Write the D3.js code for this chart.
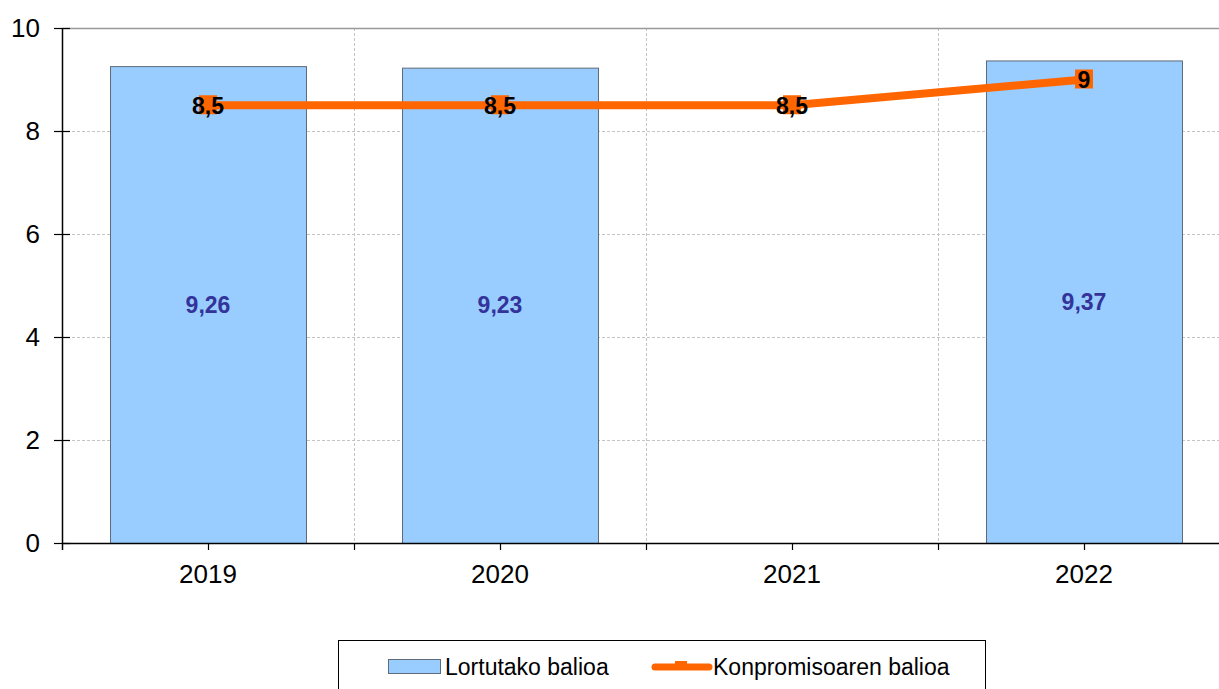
<!DOCTYPE html>
<html>
<head>
<meta charset="utf-8">
<script src="https://cdn.jsdelivr.net/npm/d3@7"></script>
<style>
  body { margin: 0; background: #fff; }
  svg { display: block; font-family: "Liberation Sans", Arial, sans-serif; }
</style>
</head>
<body>
<svg id="chart" width="1219" height="689"></svg>
<script>
(function () {
    'use strict';

    var years = ['2019', '2020', '2021', '2022'];
    var achieved = [9.26, 9.23, null, 9.37];
    var commitment = [8.5, 8.5, 8.5, 9];
    var yTicks = [0, 2, 4, 6, 8, 10];
    var seriesNames = ['Lortutako balioa', 'Konpromisoaren balioa'];

    var fmt = function (v) { return String(v).replace('.', ','); };

    var svg = d3.select('#chart'),
        margin = {top: 28, left: 62},
        width = 1168,
        height = 515,
        g = svg.append('g').attr('transform', 'translate(' + margin.left + ',' + margin.top + ')');

    var x = d3.scaleBand()
        .domain(years)
        .range([0, width])
        .paddingInner(0.3288)
        .paddingOuter(0.1644);

    var y = d3.scaleLinear()
        .domain([0, 10])
        .range([height, 0]);

    var step = x.step();

    // grid
    g.append('g')
        .selectAll('line')
        .data(yTicks.filter(function (d) { return d > 0 && d < 10; }))
        .enter().append('line')
        .attr('x1', 0).attr('x2', width)
        .attr('y1', function (d) { return y(d) + 0.5; })
        .attr('y2', function (d) { return y(d) + 0.5; })
        .attr('stroke', '#c4c4c4')
        .attr('stroke-dasharray', '3,2');

    g.append('g')
        .selectAll('line')
        .data(years.slice(1))
        .enter().append('line')
        .attr('x1', function (d, i) { return (i + 1) * step + 0.5; })
        .attr('x2', function (d, i) { return (i + 1) * step + 0.5; })
        .attr('y1', 0).attr('y2', height)
        .attr('stroke', '#c4c4c4')
        .attr('stroke-dasharray', '3,2');

    // top border
    g.append('line')
        .attr('x1', 0).attr('x2', width)
        .attr('y1', 0.5).attr('y2', 0.5)
        .attr('stroke', '#999')
        .attr('stroke-width', 1.5);

    // bars
    var barData = years.map(function (d, i) { return {year: d, value: achieved[i]}; })
        .filter(function (d) { return d.value !== null; });

    g.append('g')
        .selectAll('rect')
        .data(barData)
        .enter().append('rect')
        .attr('x', function (d) { return x(d.year) + 0.5; })
        .attr('y', function (d) { return y(d.value) + 0.5; })
        .attr('width', x.bandwidth())
        .attr('height', function (d) { return y(0) - y(d.value); })
        .attr('fill', '#99ccff')
        .attr('stroke', '#5f6b78')
        .attr('stroke-width', 1);

    g.append('g')
        .selectAll('text')
        .data(barData)
        .enter().append('text')
        .attr('x', function (d) { return x(d.year) + x.bandwidth() / 2; })
        .attr('y', function (d) { return (y(d.value) + y(0)) / 2; })
        .attr('dy', '0.35em')
        .attr('text-anchor', 'middle')
        .attr('font-size', 23)
        .attr('font-weight', 'bold')
        .attr('fill', '#333399')
        .text(function (d) { return fmt(d.value); });

    // line
    var lineData = years.map(function (d, i) { return {year: d, value: commitment[i]}; });
    var cx = function (d) { return x(d.year) + x.bandwidth() / 2; };

    var line = d3.line()
        .x(cx)
        .y(function (d) { return y(d.value); });

    g.append('path')
        .datum(lineData)
        .attr('fill', 'none')
        .attr('stroke', '#ff6600')
        .attr('stroke-width', 8)
        .attr('stroke-linejoin', 'round')
        .attr('d', line);

    g.append('g')
        .selectAll('rect')
        .data(lineData)
        .enter().append('rect')
        .attr('x', function (d) { return cx(d) - 9; })
        .attr('y', function (d) { return y(d.value) - 10; })
        .attr('width', 18).attr('height', 19)
        .attr('fill', '#ff6600');

    g.append('g')
        .selectAll('text')
        .data(lineData)
        .enter().append('text')
        .attr('x', cx)
        .attr('y', function (d) { return y(d.value); })
        .attr('dy', '0.36em')
        .attr('text-anchor', 'middle')
        .attr('font-size', 23)
        .attr('font-weight', 'bold')
        .attr('fill', '#000')
        .text(function (d) { return fmt(d.value); });

    // axes
    g.append('line')
        .attr('x1', 0.5).attr('x2', 0.5)
        .attr('y1', 0).attr('y2', height + 7)
        .attr('stroke', '#000').attr('stroke-width', 1.5);

    g.append('line')
        .attr('x1', 0).attr('x2', width)
        .attr('y1', height + 0.5).attr('y2', height + 0.5)
        .attr('stroke', '#000').attr('stroke-width', 1.5);

    var yAxis = g.append('g');
    yAxis.selectAll('line')
        .data(yTicks)
        .enter().append('line')
        .attr('x1', -8).attr('x2', 8)
        .attr('y1', function (d) { return y(d) + 0.5; })
        .attr('y2', function (d) { return y(d) + 0.5; })
        .attr('stroke', '#000').attr('stroke-width', 1.2);
    yAxis.selectAll('text')
        .data(yTicks)
        .enter().append('text')
        .attr('x', -22)
        .attr('y', function (d) { return y(d); })
        .attr('dy', '0.35em')
        .attr('text-anchor', 'end')
        .attr('font-size', 26)
        .attr('fill', '#000')
        .text(function (d) { return d; });

    var xAxis = g.append('g');
    xAxis.selectAll('line.c')
        .data(years)
        .enter().append('line')
        .attr('x1', function (d) { return cx({year: d}) + 0.5; })
        .attr('x2', function (d) { return cx({year: d}) + 0.5; })
        .attr('y1', height).attr('y2', height + 7)
        .attr('stroke', '#000').attr('stroke-width', 1.2);
    xAxis.selectAll('line.b')
        .data(years.slice(1))
        .enter().append('line')
        .attr('x1', function (d, i) { return (i + 1) * step + 0.5; })
        .attr('x2', function (d, i) { return (i + 1) * step + 0.5; })
        .attr('y1', height).attr('y2', height + 7)
        .attr('stroke', '#000').attr('stroke-width', 1.2);
    xAxis.selectAll('text')
        .data(years)
        .enter().append('text')
        .attr('x', function (d) { return cx({year: d}); })
        .attr('y', height + 31)
        .attr('dy', '0.35em')
        .attr('text-anchor', 'middle')
        .attr('font-size', 26)
        .attr('fill', '#000')
        .text(function (d) { return d; });

    // legend
    var legend = svg.append('g').attr('transform', 'translate(338,640)');
    legend.append('rect')
        .attr('x', 0.5).attr('y', 0.5)
        .attr('width', 647).attr('height', 60)
        .attr('fill', '#fff')
        .attr('stroke', '#000').attr('stroke-width', 1);
    legend.append('rect')
        .attr('x', 50.5).attr('y', 19.5)
        .attr('width', 52).attr('height', 14)
        .attr('fill', '#99ccff')
        .attr('stroke', '#5f6b78');
    legend.append('text')
        .attr('x', 107).attr('y', 27)
        .attr('dy', '0.35em')
        .attr('font-size', 23)
        .text(seriesNames[0]);
    legend.append('line')
        .attr('x1', 317).attr('x2', 371)
        .attr('y1', 27).attr('y2', 27)
        .attr('stroke', '#ff6600').attr('stroke-width', 7)
        .attr('stroke-linecap', 'round');
    legend.append('rect')
        .attr('x', 337).attr('y', 21)
        .attr('width', 12).attr('height', 6)
        .attr('fill', '#ff6600');
    legend.append('text')
        .attr('x', 375).attr('y', 27)
        .attr('dy', '0.35em')
        .attr('font-size', 23)
        .text(seriesNames[1]);
})();
</script>
</body>
</html>
